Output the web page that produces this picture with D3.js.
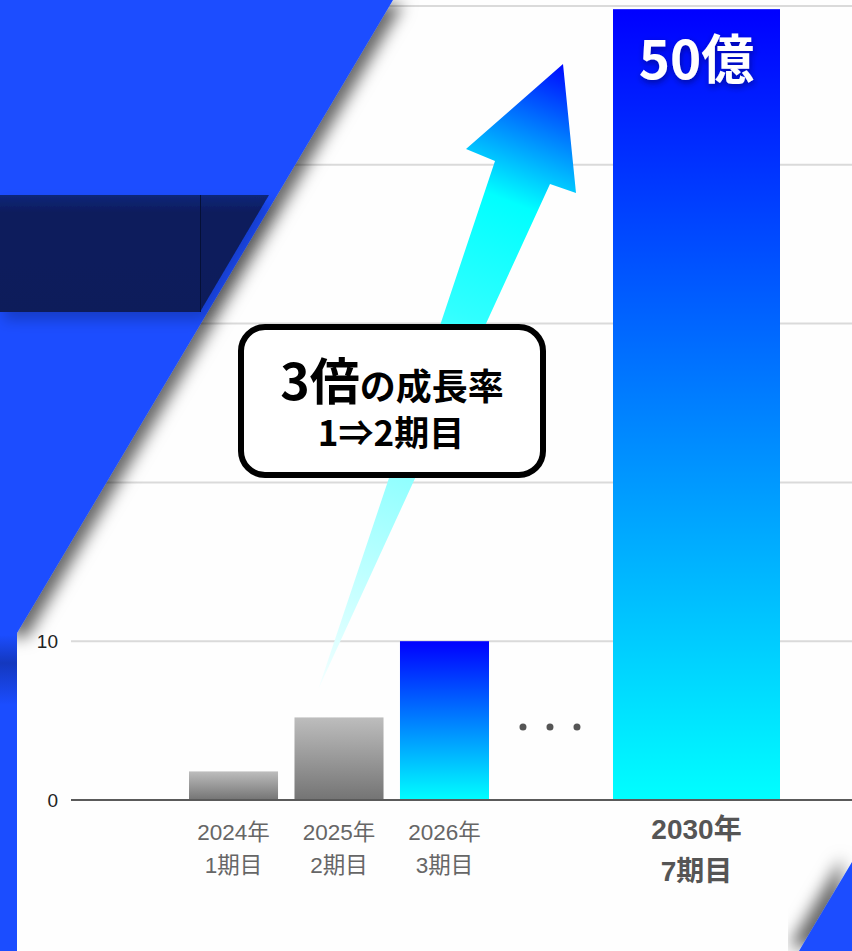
<!DOCTYPE html>
<html>
<head>
<meta charset="utf-8">
<script src="https://cdn.jsdelivr.net/npm/d3@7"></script>
<style>
  body { margin: 0; background: #fefefe; }
  svg { display: block; }
</style>
</head>
<body>
<div id="chart"></div>
<script>
/* Growth bar chart: 1期目 -> 7期目 */

const categories = ["2024年", "2025年", "2026年", "…", "2030年"];
const periods = ["1期目", "2期目", "3期目", "", "7期目"];
const values = [1.8, 5.2, 10, null, 49.8];
const yTicks = [0, 10, 20, 30, 40, 50];
const topLabel = "50億";
const calloutBig = "3倍";
const calloutSmall = "の成長率";
const calloutLine2 = "1⇒2期目";

const width = 852,
    height = 951,
    margin = ({top: 6, right: 0, bottom: 151, left: 71});

const blue = "#1b4dff";
const jpFont = "'Noto Sans CJK JP', 'Noto Sans', sans-serif";
const axisFont = "'Liberation Sans', Arial, 'Noto Sans CJK JP', sans-serif";

// slanted edge of the blue panel: x at a given y
const panelEdge = yy => 393 - 0.594 * yy;

let svg = d3.select('#chart')
    .append('svg')
    .attr('width', width)
    .attr('height', height)
    .attr('viewBox', [0, 0, width, height]);

const defs = svg.append('defs');

// bar gradients
let gray = defs.append('linearGradient').attr('id', 'grayGrad')
    .attr('x1', 0).attr('y1', 0).attr('x2', 0).attr('y2', 1);
gray.append('stop').attr('offset', 0).attr('stop-color', '#bdbdbd');
gray.append('stop').attr('offset', 1).attr('stop-color', '#747474');

let blueGrad = defs.append('linearGradient').attr('id', 'blueGrad')
    .attr('x1', 0).attr('y1', 0).attr('x2', 0).attr('y2', 1);
blueGrad.append('stop').attr('offset', 0).attr('stop-color', '#0000ff');
blueGrad.append('stop').attr('offset', 1).attr('stop-color', '#00ffff');

// shadows
const shadow = (id, dx, dy, sd, op) => defs.append('filter').attr('id', id)
    .attr('x', '-20%').attr('y', '-20%').attr('width', '140%').attr('height', '140%')
    .append('feDropShadow')
    .attr('dx', dx).attr('dy', dy).attr('stdDeviation', sd)
    .attr('flood-color', '#000').attr('flood-opacity', op);
shadow('panelShadow', 10, 4, 8, 0.6);
shadow('cornerShadow', -10, -4, 8, 0.6);
shadow('navyShadow', 4, 8, 7, 0.22);
defs.append('filter').attr('id', 'textShadow')
    .attr('x', '-20%').attr('y', '-30%').attr('width', '140%').attr('height', '160%')
    .append('feDropShadow')
    .attr('dx', 1).attr('dy', 3).attr('stdDeviation', 3)
    .attr('flood-color', '#000033').attr('flood-opacity', 0.45);

// scales
let y = d3.scaleLinear()
    .domain([0, 50])
    .range([height - margin.bottom, margin.top]);

let x = d3.scaleBand()   // the three small years + the gap
    .domain(categories.slice(0, 4))
    .range([189, 594.5])
    .paddingInner(0.156);

let xBig = d3.scaleBand()  // highlighted final year
    .domain(categories.slice(4))
    .range([613, 780]);

const band = c => x.domain().includes(c)
    ? {x0: x(c), w: x.bandwidth()}
    : {x0: xBig(c), w: xBig.bandwidth()};

const data = categories.map((c, i) => ({cat: c, period: periods[i], value: values[i], i: i}));

// gridlines
svg.append('g')
    .selectAll('line')
    .data(yTicks.filter(t => t > 0))
    .join('line')
    .attr('x1', margin.left).attr('x2', width)
    .attr('y1', d => y(d)).attr('y2', d => y(d))
    .attr('stroke', '#dadada')
    .attr('stroke-width', 2);

// y labels (the ones under the blue panel are not drawn)
svg.append('g')
    .selectAll('text')
    .data(yTicks.filter(t => panelEdge(y(t)) < 30))
    .join('text')
    .attr('x', margin.left - 13)
    .attr('y', d => y(d))
    .attr('dy', '0.35em')
    .attr('text-anchor', 'end')
    .attr('font-family', axisFont)
    .attr('font-size', 19)
    .attr('fill', '#222')
    .text(d => d);

// bars
svg.append('g')
    .selectAll('rect')
    .data(data.filter(d => d.value != null))
    .join('rect')
    .attr('x', d => band(d.cat).x0)
    .attr('width', d => band(d.cat).w)
    .attr('y', d => y(d.value))
    .attr('height', d => y(0) - y(d.value))
    .attr('fill', d => d.i < 2 ? 'url(#grayGrad)' : 'url(#blueGrad)');

// baseline
svg.append('line')
    .attr('x1', margin.left).attr('x2', width)
    .attr('y1', y(0)).attr('y2', y(0))
    .attr('stroke', '#5a5a5a')
    .attr('stroke-width', 2);

// ・・・ in the gap slot
let gapCat = categories[3];
svg.append('g')
    .selectAll('circle')
    .data(d3.range(3))
    .join('circle')
    .attr('cx', k => x(gapCat) + x.bandwidth() / 2 + (k - 1) * 27)
    .attr('cy', y(4.6))
    .attr('r', 3.5)
    .attr('fill', '#555');

// category labels
let lab = svg.append('g')
    .selectAll('g')
    .data(data.filter(d => d.period))
    .join('g')
    .attr('font-family', axisFont)
    .attr('text-anchor', 'middle');

const isLast = d => d.i === categories.length - 1;

lab.append('text')
    .attr('x', d => band(d.cat).x0 + band(d.cat).w / 2)
    .attr('y', d => isLast(d) ? y(0) + 39 : y(0) + 40)
    .attr('font-size', d => isLast(d) ? 28 : 22.5)
    .attr('font-weight', d => isLast(d) ? 'bold' : 'normal')
    .attr('fill', d => isLast(d) ? '#555' : '#666')
    .text(d => d.cat);

lab.append('text')
    .attr('x', d => band(d.cat).x0 + band(d.cat).w / 2)
    .attr('y', d => isLast(d) ? y(0) + 81 : y(0) + 73)
    .attr('font-size', d => isLast(d) ? 28 : 22.5)
    .attr('font-weight', d => isLast(d) ? 'bold' : 'normal')
    .attr('fill', d => isLast(d) ? '#555' : '#666')
    .text(d => d.period);

// value on the big bar
let last = data[4];
svg.append('text')
    .attr('x', band(last.cat).x0 + band(last.cat).w / 2)
    .attr('y', y(last.value) + 70)
    .attr('text-anchor', 'middle')
    .attr('font-family', jpFont)
    .attr('font-weight', 700)
    .attr('font-size', 53)
    .attr('fill', '#fff')
    .attr('filter', 'url(#textShadow)')
    .text(topLabel);

// growth arrow, tail just above the 2025 bar
const tail = [x(categories[1]) + 24, y(7)];
const arrowPts = [
    tail,
    [495, 161], [466, 149], [563, 64], [576, 193], [550, 184]
];
let ag = defs.append('linearGradient').attr('id', 'arrowGrad')
    .attr('gradientUnits', 'userSpaceOnUse')
    .attr('x1', tail[0]).attr('y1', tail[1]).attr('x2', 563).attr('y2', 64);
[[0, '#f4ffff'], [0.35, '#8effff'], [0.6, '#30ffff'], [0.78, '#00ffff'], [1, '#0008ff']]
    .forEach(s => ag.append('stop').attr('offset', s[0]).attr('stop-color', s[1]));
svg.append('path')
    .attr('d', d3.line()(arrowPts) + 'Z')
    .attr('fill', 'url(#arrowGrad)');

// callout box
let cb = svg.append('g');
cb.append('rect')
    .attr('x', 241).attr('y', 327)
    .attr('width', 302).attr('height', 148)
    .attr('rx', 24)
    .attr('fill', '#fff')
    .attr('stroke', '#000')
    .attr('stroke-width', 6);
let t1 = cb.append('text')
    .attr('x', 392).attr('y', 400)
    .attr('text-anchor', 'middle')
    .attr('font-family', jpFont)
    .attr('font-weight', 700)
    .attr('fill', '#000');
t1.append('tspan').attr('font-size', 50).text(calloutBig);
t1.append('tspan').attr('font-size', 36).text(calloutSmall);
cb.append('text')
    .attr('x', 391).attr('y', 446)
    .attr('text-anchor', 'middle')
    .attr('font-family', jpFont)
    .attr('font-weight', 700)
    .attr('font-size', 35)
    .attr('fill', '#000')
    .text(calloutLine2);

// blue slanted panel on the left (drawn on top of the grid)
svg.append('path')
    .attr('d', `M0,0 L${panelEdge(0)},0 L17,633 L0,633 Z`)
    .attr('fill', blue)
    .attr('filter', 'url(#panelShadow)');
svg.append('rect')
    .attr('x', 0).attr('y', 620)
    .attr('width', 17).attr('height', height - 620)
    .attr('fill', blue);
let strip = defs.append('linearGradient').attr('id', 'stripShade')
    .attr('x1', 0).attr('y1', 0).attr('x2', 0).attr('y2', 1);
strip.append('stop').attr('offset', 0).attr('stop-color', '#0b1e70').attr('stop-opacity', 0);
strip.append('stop').attr('offset', 0.4).attr('stop-color', '#0b1e70').attr('stop-opacity', 0.45);
strip.append('stop').attr('offset', 1).attr('stop-color', '#0b1e70').attr('stop-opacity', 0);
svg.append('rect')
    .attr('x', 0).attr('y', 635)
    .attr('width', 17).attr('height', 70)
    .attr('fill', 'url(#stripShade)');

// navy box
let navyGrad = defs.append('linearGradient').attr('id', 'navyGrad')
    .attr('x1', 0).attr('y1', 0).attr('x2', 0).attr('y2', 1);
navyGrad.append('stop').attr('offset', 0).attr('stop-color', '#0c267a');
navyGrad.append('stop').attr('offset', 0.15).attr('stop-color', '#0a1c5c');
navyGrad.append('stop').attr('offset', 1).attr('stop-color', '#0a1c5a');
svg.append('path')
    .attr('d', 'M0,195 L269,195 L200,312 L0,312 Z')
    .attr('fill', 'url(#navyGrad)')
    .attr('filter', 'url(#navyShadow)');
svg.append('line')
    .attr('x1', 200.5).attr('x2', 200.5)
    .attr('y1', 195).attr('y2', 312)
    .attr('stroke', '#051036')
    .attr('stroke-width', 1);

// blue corner bottom right
svg.append('path')
    .attr('d', `M${width},862 L${width},${height} L799,${height} Z`)
    .attr('fill', blue)
    .attr('filter', 'url(#cornerShadow)');
</script>
</body>
</html>
